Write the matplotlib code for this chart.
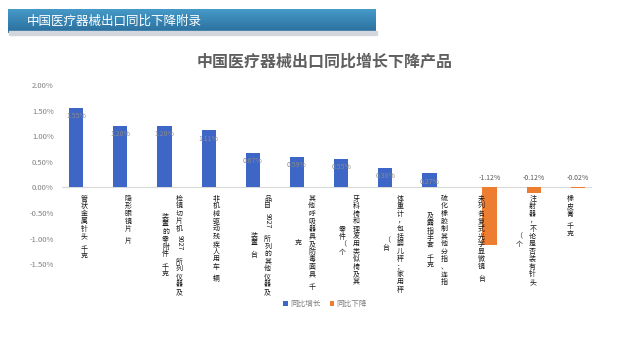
import re
import numpy as np
import matplotlib.pyplot as plt
from matplotlib.patches import Rectangle
from matplotlib.colors import LinearSegmentedColormap
from matplotlib.ticker import FuncFormatter

plt.rcParams['font.family'] = ['Noto Sans CJK SC', 'DejaVu Sans']

# data (percent), each label given as vertical columns, right column first
labels = [
    ["管状金属针头 千克"],
    ["隐形眼镜片 片"],
    ["检镜切片机9027 所列仪器及", "装置的零附件 千克"],
    ["非机械驱动残疾人用车 辆"],
    ["品目9027 所列的其他仪器及", "装置 台"],
    ["其他呼吸器具及防毒面具 千", "克"],
    ["牙科椅和理发用类似椅及其", "零件（个"],
    ["体重计，包括婴儿秤；家用秤", "（台"],
    ["硫化橡胶制其他分指、连指", "及露指手套 千克"],
    ["未列名复式光学显微镜 台"],
    ["注射器，不论是否装有针头", "（个"],
    ["橡皮膏 千克"],
]
growth = [1.55, 1.20, 1.20, 1.11, 0.67, 0.59, 0.55, 0.38, 0.27, 0, 0, 0]
decline = [0, 0, 0, 0, 0, 0, 0, 0, 0, -1.12, -0.12, -0.02]
series_names = ["同比增长", "同比下降"]

blue = '#3d66c6'
orange = '#ed7d31'
gray = '#7f7f7f'

fig = plt.figure(figsize=(6.4, 3.53), dpi=100)

# header banner
fig.patches.append(Rectangle((9/640, 1-35/353), 368/640, 4/353, transform=fig.transFigure,
                             color='#d3d6dc', zorder=0))
bax = fig.add_axes([8/640, 1-33/353, 368/640, 24/353])
grad = np.linspace(0, 1, 50).reshape(-1, 1)
cm = LinearSegmentedColormap.from_list('b', ['#4599c8', '#2a6e9c'])
bax.imshow(grad, aspect='auto', cmap=cm, extent=[0, 1, 0, 1], origin='upper')
bax.axis('off')
fig.text(27/640, 1-21/353, "中国医疗器械出口同比下降附录", color='white', fontsize=9, va='center')

fig.text(325/640, 1-62/353, "中国医疗器械出口同比增长下降产品", color='#5f5f5f',
         fontsize=11.5, fontweight='bold', ha='center', va='center')

ax = fig.add_axes([62/640, 1-264.1/353, 530/640, (264.1-84.9)/353])
x = np.arange(len(labels))
w = 0.32
b1 = ax.bar(x - 0.18, growth, w, color=blue, label=series_names[0])
b2 = ax.bar(x + 0.18, decline, w, color=orange, label=series_names[1])

ax.set_xlim(-0.5, len(labels) - 0.5)
ax.set_ylim(-1.5, 2.0)
ax.set_yticks([-1.5, -1.0, -0.5, 0, 0.5, 1.0, 1.5, 2.0])
ax.yaxis.set_major_formatter(FuncFormatter(lambda v, p: '%.2f%%' % v))
ax.tick_params(axis='y', length=0, labelsize=5.5, labelcolor=gray, pad=6)
ax.set_xticks([])
for s in ax.spines.values():
    s.set_visible(False)
ax.axhline(0, color='#d9d9d9', lw=0.8, zorder=0)

for xi, v in zip(x, growth):
    if v:
        ax.annotate('%.2f%%' % v, (xi - 0.18, v), xytext=(0, -6), textcoords='offset points',
                    ha='center', va='center', fontsize=5, color='#8a8a8a')
for xi, v in zip(x, decline):
    if v:
        ax.annotate('%.2f%%' % v, (xi + 0.18, 0), xytext=(0, 7), textcoords='offset points',
                    ha='center', va='center', fontsize=5, color='#595959')

# vertical stacked category labels
step = 5.45     # points per character
digit = 3.7     # points per latin digit (drawn sideways)
fs = 5.0


def tokens(col):
    out = []
    for t in re.findall(r'[0-9A-Za-z]+|.', col):
        if t == ' ':
            out.append((t, step * 0.6))
        elif t.isascii():
            out.append((t, digit * len(t)))
        else:
            out.append((t, step))
    return out


for xi, cols in zip(x, labels):
    toks = [tokens(c) for c in cols]
    lens = [sum(a for _, a in t) for t in toks]
    lmax = max(lens)
    n = len(cols)
    for j, (tk, ln) in enumerate(zip(toks, lens)):
        dx = 10 * ((n - 1) / 2 - j)
        y = -5.5 - (lmax - ln) / 2
        for t, adv in tk:
            if t != ' ':
                rot = -90 if t.isascii() else 0
                ax.annotate(t, (xi, 0), xytext=(dx, y - adv / 2), textcoords='offset points',
                            ha='center', va='center', fontsize=fs, rotation=rot,
                            color='#1a1a1a', annotation_clip=False)
            y -= adv

fig.legend(handles=[b1, b2], loc='center', bbox_to_anchor=(325/640, 1-304/353), ncol=2,
           frameon=False, fontsize=5.5, labelcolor=gray, handlelength=0.6, handleheight=0.6,
           handletextpad=0.3, columnspacing=1.2)

fig.savefig('out.png', dpi=100)
